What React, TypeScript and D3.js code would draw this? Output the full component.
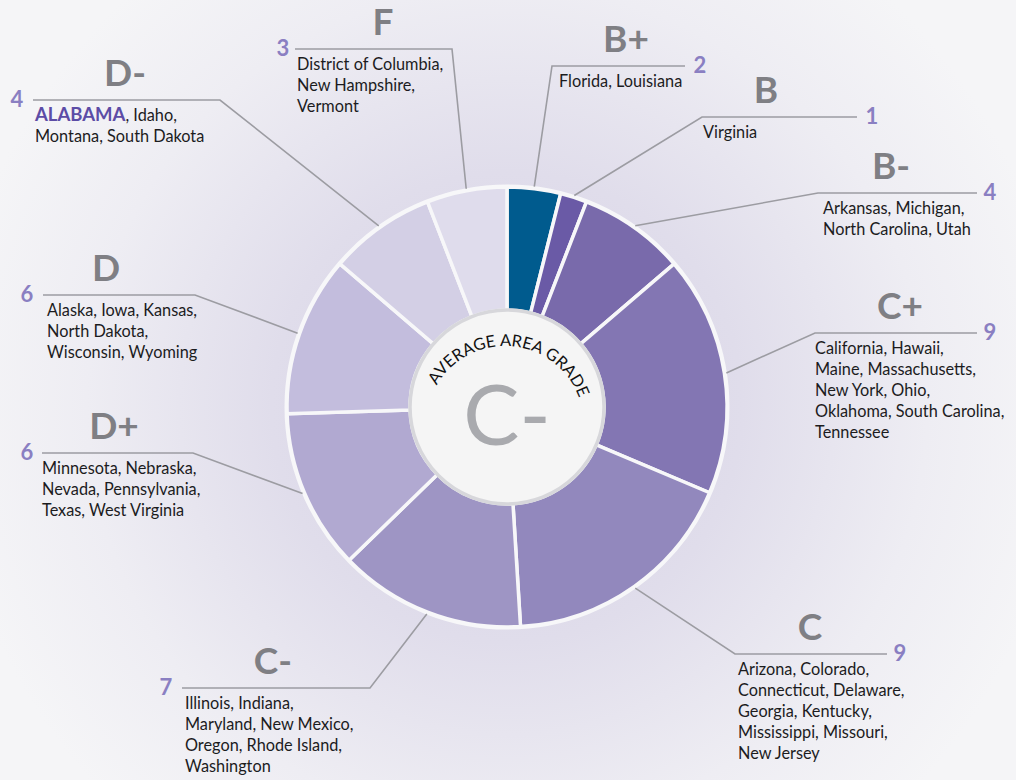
import { useEffect, useRef } from "react";
import * as d3 from "d3";

// grades in clockwise order from 12 o'clock
const grades = ["B+", "B", "B-", "C+", "C", "C-", "D+", "D", "D-", "F"];
const counts = [2, 1, 4, 9, 9, 7, 6, 6, 4, 3];
const stateLines = [
  ["Florida, Louisiana"],
  ["Virginia"],
  ["Arkansas, Michigan,", "North Carolina, Utah"],
  ["California, Hawaii,", "Maine, Massachusetts,", "New York, Ohio,", "Oklahoma, South Carolina,", "Tennessee"],
  ["Arizona, Colorado,", "Connecticut, Delaware,", "Georgia, Kentucky,", "Mississippi, Missouri,", "New Jersey"],
  ["Illinois, Indiana,", "Maryland, New Mexico,", "Oregon, Rhode Island,", "Washington"],
  ["Minnesota, Nebraska,", "Nevada, Pennsylvania,", "Texas, West Virginia"],
  ["Alaska, Iowa, Kansas,", "North Dakota,", "Wisconsin, Wyoming"],
  ["ALABAMA, Idaho,", "Montana, South Dakota"],
  ["District of Columbia,", "New Hampshire,", "Vermont"],
];
const highlightState = "ALABAMA";
const averageGrade = "C-";
const centerTitle = "AVERAGE AREA GRADE";

const sliceColors = [
  "#005b8e", "#6a5aa6", "#796aab", "#8376b3", "#9288bd",
  "#9e95c4", "#b1a9d1", "#c3bddd", "#d3cfe5", "#dfdcec",
];

// label placement: horizontal rule x1..x2 at y, elbow on the side toward the donut
const labelLayout = [
  { x1: 552, x2: 685, y: 66, elbow: "left", gradeX: 626, countX: 700, textX: 559 },
  { x1: 702, x2: 857, y: 117, elbow: "left", gradeX: 766, countX: 872, textX: 703 },
  { x1: 818, x2: 977, y: 193, elbow: "left", gradeX: 891, countX: 990, textX: 823 },
  { x1: 815, x2: 977, y: 333, elbow: "left", gradeX: 900, countX: 990, textX: 815 },
  { x1: 735, x2: 887, y: 654, elbow: "left", gradeX: 810, countX: 900, textX: 738 },
  { x1: 182, x2: 370, y: 688, elbow: "right", gradeX: 273, countX: 166, textX: 185 },
  { x1: 42, x2: 193, y: 453, elbow: "right", gradeX: 114, countX: 27, textX: 42 },
  { x1: 43, x2: 195, y: 295, elbow: "right", gradeX: 106, countX: 27, textX: 47 },
  { x1: 33, x2: 220, y: 100, elbow: "right", gradeX: 125, countX: 17, textX: 35 },
  { x1: 295, x2: 452, y: 49, elbow: "right", gradeX: 383, countX: 283, textX: 297 },
];

export default function App() {
  const ref = useRef<HTMLDivElement>(null);

  useEffect(() => {
    const container = d3.select(ref.current);
    container.selectAll("*").remove();

    const width = 1016;
    const height = 780;
    const cx = 507;
    const cy = 407;
    const outerR = 220;
    const innerR = 97;
    const font = "Lato, 'Open Sans', sans-serif";

    const svg = container
      .append("svg")
      .attr("width", width)
      .attr("height", height)
      .style("position", "absolute")
      .style("left", "0px")
      .style("top", "0px");

    const defs = svg.append("defs");
    const bg = defs
      .append("radialGradient")
      .attr("id", "bg")
      .attr("gradientUnits", "userSpaceOnUse")
      .attr("cx", cx)
      .attr("cy", cy)
      .attr("r", 560);
    bg.append("stop").attr("offset", 0).attr("stop-color", "#d6d2e5");
    bg.append("stop").attr("offset", 0.42).attr("stop-color", "#e0ddeb");
    bg.append("stop").attr("offset", 0.75).attr("stop-color", "#eeedf3");
    bg.append("stop").attr("offset", 1).attr("stop-color", "#f5f5f7");

    svg.append("rect").attr("width", width).attr("height", height).attr("fill", "url(#bg)");

    const pie = d3
      .pie<number>()
      .sort(null)
      .value((d) => d);
    const arcs = pie(counts);

    const arc = d3.arc<d3.PieArcDatum<number>>().innerRadius(innerR).outerRadius(outerR);
    const edge = d3
      .arc<d3.PieArcDatum<number>>()
      .innerRadius(outerR + 2)
      .outerRadius(outerR + 2);

    const g = svg.append("g").attr("transform", `translate(${cx},${cy})`);

    // leader lines
    const leaders = svg.append("g");
    arcs.forEach((d, i) => {
      const L = labelLayout[i];
      const [ex, ey] = edge.centroid(d);
      const elbowX = L.elbow === "left" ? L.x1 : L.x2;
      const otherX = L.elbow === "left" ? L.x2 : L.x1;
      leaders
        .append("path")
        .attr("d", d3.line()([[cx + ex, cy + ey], [elbowX, L.y], [otherX, L.y]]))
        .attr("fill", "none")
        .attr("stroke", "#9c9ca2")
        .attr("stroke-width", 1.6);
    });

    g.selectAll("path.slice")
      .data(arcs)
      .join("path")
      .attr("class", "slice")
      .attr("d", arc)
      .attr("fill", (_, i) => sliceColors[i])
      .attr("stroke", "#f7f7f9")
      .attr("stroke-width", 3.5)
      .attr("stroke-linejoin", "round");

    g.append("circle")
      .attr("r", outerR + 1)
      .attr("fill", "none")
      .attr("stroke", "#f7f7f9")
      .attr("stroke-width", 3);

    g.append("circle")
      .attr("r", innerR)
      .attr("fill", "#f5f5f5")
      .attr("stroke", "#d7d7db")
      .attr("stroke-width", 3.5);

    // curved title, on an arc a little below the donut centre
    const tcx = cx - 2;
    const tcy = cy + 18;
    const tr = 79;
    const a0 = (-90 + 5) * (Math.PI / 180);
    const a1 = (90 + 5) * (Math.PI / 180);
    defs
      .append("path")
      .attr("id", "titleArc")
      .attr(
        "d",
        `M${tcx + tr * Math.sin(a0)},${tcy - tr * Math.cos(a0)} A${tr},${tr} 0 0 1 ${tcx + tr * Math.sin(a1)},${tcy - tr * Math.cos(a1)}`
      );
    svg
      .append("text")
      .attr("font-family", font)
      .attr("font-size", 16.5)
      .attr("fill", "#111")
      .append("textPath")
      .attr("href", "#titleArc")
      .attr("startOffset", "50%")
      .attr("text-anchor", "middle")
      .text(centerTitle);

    svg
      .append("text")
      .attr("x", cx)
      .attr("y", cy + 38)
      .attr("text-anchor", "middle")
      .attr("font-family", font)
      .attr("font-size", 84)
      .attr("fill", "#a9aaae")
      .text(averageGrade);

    // labels
    const labels = svg.append("g").attr("font-family", font);
    arcs.forEach((d, i) => {
      const L = labelLayout[i];
      labels
        .append("text")
        .attr("x", L.gradeX)
        .attr("y", L.y - 14)
        .attr("text-anchor", "middle")
        .attr("font-size", 37)
        .attr("font-weight", 700)
        .attr("fill", "#7f7f84")
        .text(grades[i]);
      labels
        .append("text")
        .attr("x", L.countX)
        .attr("y", L.y + 7)
        .attr("text-anchor", "middle")
        .attr("font-size", 22)
        .attr("font-weight", 700)
        .attr("fill", "#8a7fc2")
        .text(counts[i]);
      stateLines[i].forEach((line, j) => {
        const t = labels
          .append("text")
          .attr("x", L.textX)
          .attr("y", L.y + 21 + j * 21)
          .attr("font-size", 16.3)
          .attr("fill", "#1c1c1e");
        if (line.startsWith(highlightState)) {
          t.append("tspan")
            .attr("font-weight", 700)
            .attr("font-size", 18.5)
            .attr("fill", "#5c4ca6")
            .text(highlightState);
          t.append("tspan").text(line.slice(highlightState.length));
        } else {
          t.text(line);
        }
      });
    });
  }, []);

  return <div ref={ref} />;
}
